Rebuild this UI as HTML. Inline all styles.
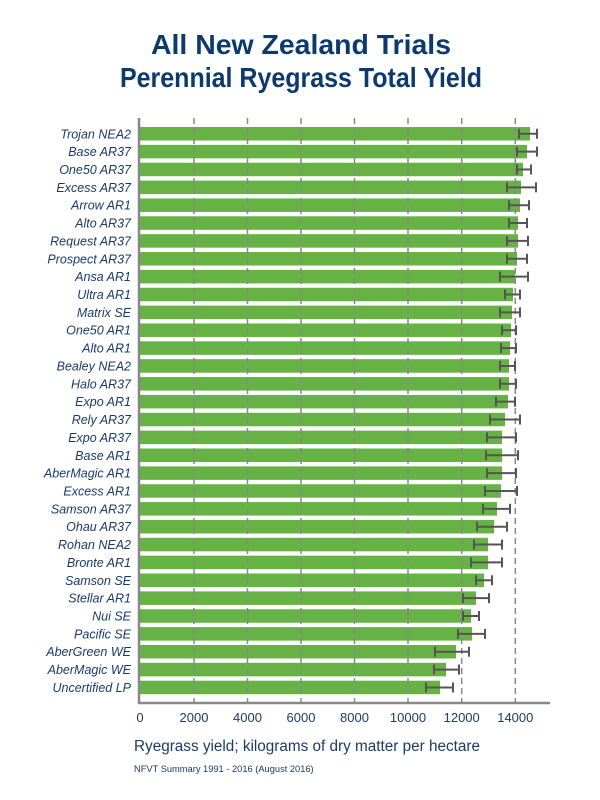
<!DOCTYPE html>
<html><head><meta charset="utf-8"><style>
body{margin:0;background:#fff;}
svg{display:block;}
</style></head><body>
<svg width="600" height="800" xmlns="http://www.w3.org/2000/svg" font-family="Liberation Sans, sans-serif">
<rect width="600" height="800" fill="#fff"/>
<text x="301" y="54" text-anchor="middle" font-size="28" font-weight="bold" fill="#0d3a6e" textLength="300" lengthAdjust="spacingAndGlyphs">All New Zealand Trials</text>
<text x="301" y="87" text-anchor="middle" font-size="28" font-weight="bold" fill="#0d3a6e" textLength="362" lengthAdjust="spacingAndGlyphs">Perennial Ryegrass Total Yield</text>
<g id="bars"></g>
<g stroke="#888" stroke-width="1.5" stroke-dasharray="6,4">
<line x1="194" y1="118" x2="194" y2="702"/>
<line x1="247.5" y1="118" x2="247.5" y2="702"/>
<line x1="301" y1="118" x2="301" y2="702"/>
<line x1="354.5" y1="118" x2="354.5" y2="702"/>
<line x1="408" y1="118" x2="408" y2="702"/>
<line x1="461.7" y1="118" x2="461.7" y2="702"/>
<line x1="515.3" y1="118" x2="515.3" y2="702"/>
</g>
<g id="fg"></g>
<line x1="139" y1="118" x2="139" y2="704" stroke="#888" stroke-width="2.5"/>
<line x1="138" y1="703" x2="550" y2="703" stroke="#888" stroke-width="2.5"/>
<g font-size="13" fill="#1b3a6b" text-anchor="middle">
<text x="140" y="722">0</text><text x="194" y="722">2000</text><text x="247.5" y="722">4000</text><text x="301" y="722">6000</text><text x="354.5" y="722">8000</text><text x="408" y="722">10000</text><text x="461.7" y="722">12000</text><text x="515.3" y="722">14000</text>
</g>
<text x="134" y="751" font-size="15.3" fill="#1b3a6b">Ryegrass yield; kilograms of dry matter per hectare</text>
<text x="134" y="772" font-size="9.3" fill="#1b3a6b">NFVT Summary 1991 - 2016 (August 2016)</text>
<script>
var d=[["Trojan NEA2",530,519,537],["Base AR37",527,517,537],["One50 AR37",523,517,531],["Excess AR37",521,507,536],["Arrow AR1",520,509,529],["Alto AR37",518,509,527],["Request AR37",518,507,528],["Prospect AR37",517,507,527],["Ansa AR1",515,500,528],["Ultra AR1",513,505,520],["Matrix SE",512,500,520],["One50 AR1",511,502,516],["Alto AR1",510,501,516],["Bealey NEA2",509,500,515],["Halo AR37",509,500,516],["Expo AR1",508,496,515],["Rely AR37",505,490,520],["Expo AR37",502,487,516],["Base AR1",502,486,518],["AberMagic AR1",502,487,516],["Excess AR1",501,485,517],["Samson AR37",497,483,510],["Ohau AR37",494,477,507],["Rohan NEA2",488,474,502],["Bronte AR1",488,471,502],["Samson SE",484,476,492],["Stellar AR1",476,463,489],["Nui SE",471,463,479],["Pacific SE",472,458,485],["AberGreen WE",456,435,469],["AberMagic WE",446,434,459],["Uncertified LP",440,426,453]];
var ns="http://www.w3.org/2000/svg",b=document.getElementById("bars"),f=document.getElementById("fg");
function el(p,t,a,tx){var e=document.createElementNS(ns,t);for(var k in a)e.setAttribute(k,a[k]);if(tx)e.textContent=tx;p.appendChild(e);}
var step=(680.7-127)/31;
d.forEach(function(r,i){var y=127+i*step,h=13.5,c=y+h/2;
el(b,"rect",{x:140,y:y,width:r[1]-140,height:h,fill:"#66b245"});
el(f,"line",{x1:r[2],y1:c,x2:r[3],y2:c,stroke:"#555",'stroke-width':2});
el(f,"line",{x1:r[2],y1:c-5,x2:r[2],y2:c+5,stroke:"#555",'stroke-width':2});
el(f,"line",{x1:r[3],y1:c-5,x2:r[3],y2:c+5,stroke:"#555",'stroke-width':2});
el(f,"text",{x:131,y:c+4.5,'text-anchor':"end",'font-size':12.5,'font-style':"italic",fill:"#1b3a6b"},r[0]);
});
</script>
</svg>
</body></html>
